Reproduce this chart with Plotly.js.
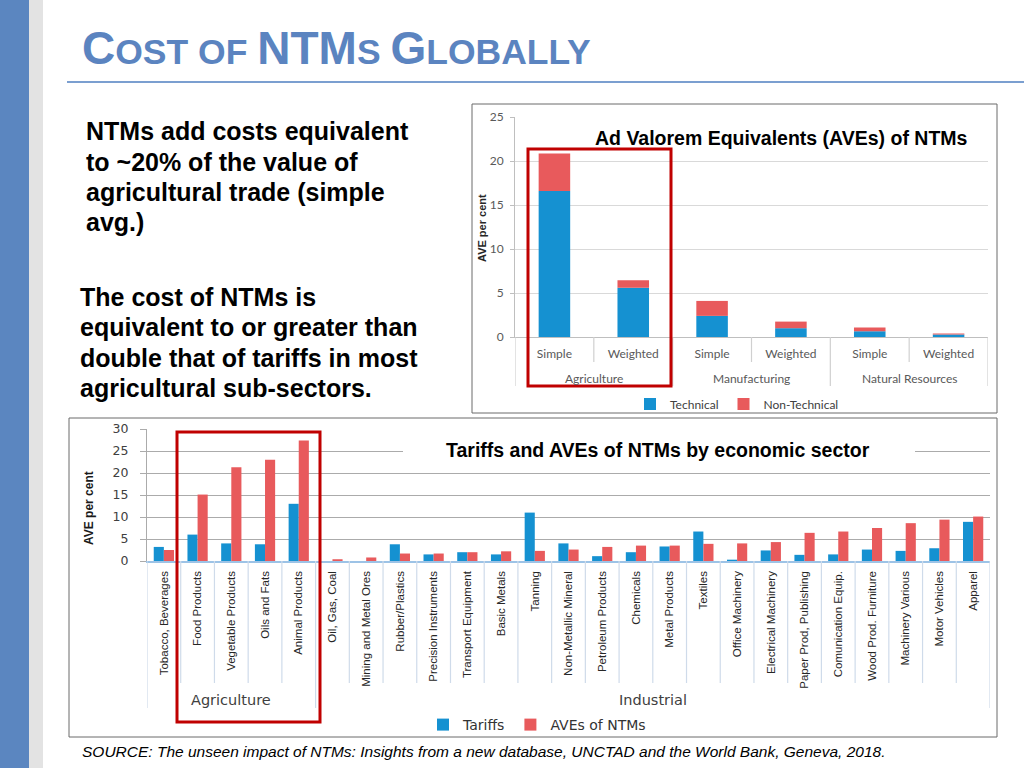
<!DOCTYPE html>
<html>
<head>
<meta charset="utf-8">
<script src="https://cdn.plot.ly/plotly-3.0.1.min.js"></script>
<style>
  html, body { margin: 0; padding: 0; background: #ffffff; }
  #chart { width: 1024px; height: 768px; }
</style>
</head>
<body>
<div id="chart"></div>
<script>
// ---------- Data: top chart (AVEs of NTMs) ----------
const topGroups = ['Agriculture', 'Manufacturing', 'Natural Resources'];
const topTypes = ['Simple', 'Weighted'];
const technical = [16.6, 5.6, 2.4, 1.0, 0.65, 0.27];
const nonTechnical = [4.25, 0.85, 1.7, 0.75, 0.42, 0.12];

// ---------- Data: bottom chart (Tariffs and AVEs by sector) ----------
const sectors = ['Tobacco, Beverages', 'Food Products', 'Vegetable Products', 'Oils and Fats', 'Animal Products',
  'Oil, Gas, Coal', 'Mining and Metal Ores', 'Rubber/Plastics', 'Precision Instruments', 'Transport Equipment',
  'Basic Metals', 'Tanning', 'Non-Metallic Mineral', 'Petroleum Products', 'Chemicals', 'Metal Products',
  'Textiles', 'Office Machinery', 'Electrical Machinery', 'Paper Prod, Publishing', 'Comunication Equip.',
  'Wood Prod. Furniture', 'Machinery Various', 'Motor Vehicles', 'Apparel'];
const tariffs = [3.2, 6.0, 4.0, 3.8, 13.0, 0, 0, 3.8, 1.5, 2.0, 1.5, 11.0, 4.0, 1.1, 2.0, 3.3, 6.7, 0.3, 2.4, 1.4, 1.5, 2.6, 2.3, 2.9, 8.9];
const avesNTMs = [2.5, 15.1, 21.3, 23.0, 27.4, 0.4, 0.8, 1.7, 1.7, 2.0, 2.2, 2.3, 2.6, 3.2, 3.5, 3.5, 3.9, 4.0, 4.3, 6.4, 6.7, 7.5, 8.6, 9.4, 10.1];
const sectorGroups = ['Agriculture', 'Industrial'];
const sectorGroupSizes = [5, 20];

// ---------- Helpers (pixel -> paper) ----------
const W = 1024, H = 768;
const PX = x => x / W;
const PY = y => 1 - y / H;

const BLUE = '#1591d1';
const RED = '#e85a5c';
const ARIAL = 'Liberation Sans, Arial, sans-serif';
const CALIBRI = 'Lato, Open Sans, sans-serif';
const WIDE = 'DejaVu Sans, Verdana, sans-serif';

const topCats = [];
topGroups.forEach(g => topTypes.forEach(t => topCats.push(g + ' | ' + t)));
const topTickText = topCats.map(c => c.split(' | ')[1]);

const traces = [
  { type: 'bar', name: 'Technical', x: topCats, y: technical, width: 0.4,
    marker: { color: BLUE }, xaxis: 'x', yaxis: 'y', legend: 'legend', hoverinfo: 'y' },
  { type: 'bar', name: 'Non-Technical', x: topCats, y: nonTechnical, base: technical, width: 0.4,
    marker: { color: RED }, xaxis: 'x', yaxis: 'y', legend: 'legend', hoverinfo: 'y' },
  { type: 'bar', name: 'Tariffs', x: sectors, y: tariffs, width: 0.3, offset: -0.3,
    marker: { color: BLUE }, xaxis: 'x2', yaxis: 'y2', legend: 'legend2', hoverinfo: 'y' },
  { type: 'bar', name: 'AVEs of NTMs', x: sectors, y: avesNTMs, width: 0.3, offset: 0,
    marker: { color: RED }, xaxis: 'x2', yaxis: 'y2', legend: 'legend2', hoverinfo: 'y' }
];

// ---------- Shapes ----------
const shapes = [
  // left decorative bars
  { type: 'rect', xref: 'paper', yref: 'paper', x0: 0, x1: PX(29), y0: 0, y1: 1, fillcolor: '#5b86c0', line: { width: 0 }, layer: 'below' },
  { type: 'rect', xref: 'paper', yref: 'paper', x0: PX(29), x1: PX(43), y0: 0, y1: 1, fillcolor: '#e3e3e3', line: { width: 0 }, layer: 'below' },
  // title underline
  { type: 'line', xref: 'paper', yref: 'paper', x0: PX(67), x1: 1, y0: PY(82), y1: PY(82), line: { color: '#7b9fd0', width: 2 } },
  // chart boxes
  { type: 'rect', xref: 'paper', yref: 'paper', x0: PX(472), x1: PX(997), y0: PY(413), y1: PY(104), line: { color: '#6b6b6b', width: 1 } },
  { type: 'rect', xref: 'paper', yref: 'paper', x0: PX(69), x1: PX(997), y0: PY(737), y1: PY(418), line: { color: '#6b6b6b', width: 1 } },
  // white backing behind the bottom title
  { type: 'rect', xref: 'paper', yref: 'paper', x0: PX(403), x1: PX(915), y0: PY(460), y1: PY(441), fillcolor: '#ffffff', line: { width: 0 }, layer: 'above' }
];

// top chart category dividers
for (let i = 0; i <= topCats.length; i++) {
  const isGroup = (i % topTypes.length) === 0;
  shapes.push({ type: 'line', xref: 'x', yref: 'paper', x0: i - 0.5, x1: i - 0.5,
    y0: PY(337), y1: PY(isGroup ? 386 : 362), line: { color: '#d0d0d0', width: 1.2 } });
}
// bottom chart category dividers
const groupBounds = [0];
sectorGroupSizes.reduce((acc, s) => { groupBounds.push(acc + s); return acc + s; }, 0);
for (let i = 0; i <= sectors.length; i++) {
  const isGroup = groupBounds.includes(i);
  shapes.push({ type: 'line', xref: 'x2', yref: 'paper', x0: i - 0.5, x1: i - 0.5,
    y0: PY(561), y1: PY(isGroup ? 708 : 683), line: { color: '#cfdbea', width: 1.2 } });
}

// red highlight rectangles
shapes.push({ type: 'rect', xref: 'paper', yref: 'paper', x0: PX(528), x1: PX(671), y0: PY(386), y1: PY(149), line: { color: '#c00000', width: 3 }, layer: 'above' });
shapes.push({ type: 'rect', xref: 'paper', yref: 'paper', x0: PX(177), x1: PX(320), y0: PY(722), y1: PY(432), line: { color: '#c00000', width: 3 }, layer: 'above' });

// ---------- Annotations ----------
const annotations = [];
const big = s => '<span style="font-size:46px">' + s + '</span>';
annotations.push({
  xref: 'paper', yref: 'paper', x: PX(80), y: PY(48), xanchor: 'left', yanchor: 'middle', showarrow: false,
  text: big('C') + 'OST OF ' + big('NTM') + 'S ' + big('G') + 'LOBALLY',
  font: { family: ARIAL, size: 35.5, color: '#5b84c0', weight: 700 }
});

const block1 = ['NTMs add costs equivalent', 'to ~20% of the value of', 'agricultural trade (simple', 'avg.)'];
const block1Y = [131, 162, 192, 222];
block1.forEach((t, i) => annotations.push({
  xref: 'paper', yref: 'paper', x: PX(84), y: PY(block1Y[i]), xanchor: 'left', yanchor: 'middle', showarrow: false,
  text: '<b>' + t + '</b>', font: { family: ARIAL, size: 25, color: '#000000' }
}));
const block2 = ['The cost of NTMs is', 'equivalent to or greater than', 'double that of tariffs in most', 'agricultural sub-sectors.'];
const block2Y = [297, 327, 358, 388];
block2.forEach((t, i) => annotations.push({
  xref: 'paper', yref: 'paper', x: PX(78), y: PY(block2Y[i]), xanchor: 'left', yanchor: 'middle', showarrow: false,
  text: '<b>' + t + '</b>', font: { family: ARIAL, size: 25, color: '#000000' }
}));

// top chart title and axis title
annotations.push({ xref: 'paper', yref: 'paper', x: PX(781), y: PY(138), xanchor: 'center', yanchor: 'middle', showarrow: false,
  text: '<b>Ad Valorem Equivalents (AVEs) of NTMs</b>', font: { family: ARIAL, size: 19.5, color: '#000000' } });
annotations.push({ xref: 'paper', yref: 'paper', x: PX(482), y: PY(228), xanchor: 'center', yanchor: 'middle', showarrow: false,
  textangle: -90, text: '<b>AVE per cent</b>', font: { family: ARIAL, size: 11, color: '#262626' } });
// top chart group labels
topGroups.forEach((g, i) => annotations.push({
  xref: 'x', yref: 'paper', x: i * topTypes.length + (topTypes.length - 1) / 2, y: PY(379),
  xanchor: 'center', yanchor: 'middle', showarrow: false, text: g,
  font: { family: CALIBRI, size: 12, color: '#595959' }
}));

// bottom chart title and axis title
annotations.push({ xref: 'paper', yref: 'paper', x: PX(658), y: PY(450), xanchor: 'center', yanchor: 'middle', showarrow: false,
  text: '<b>Tariffs and AVEs of NTMs by economic sector</b>', font: { family: ARIAL, size: 19.5, color: '#000000' } });
annotations.push({ xref: 'paper', yref: 'paper', x: PX(89), y: PY(508), xanchor: 'center', yanchor: 'middle', showarrow: false,
  textangle: -90, text: '<b>AVE per cent</b>', font: { family: ARIAL, size: 12, color: '#1a1a1a' } });
// bottom chart group labels
let start = 0;
sectorGroups.forEach((g, i) => {
  annotations.push({ xref: 'x2', yref: 'paper', x: start + (sectorGroupSizes[i] - 1) / 2, y: PY(700),
    xanchor: 'center', yanchor: 'middle', showarrow: false, text: g,
    font: { family: WIDE, size: 14.5, color: '#404040' } });
  start += sectorGroupSizes[i];
});

// source
annotations.push({ xref: 'paper', yref: 'paper', x: PX(80), y: PY(751), xanchor: 'left', yanchor: 'middle', showarrow: false,
  text: '<i>SOURCE: The unseen impact of NTMs: Insights from a new database, UNCTAD and the World Bank, Geneva, 2018.</i>',
  font: { family: ARIAL, size: 15.5, color: '#000000' } });

// ---------- Layout ----------
const layout = {
  width: W, height: H,
  margin: { l: 0, r: 0, t: 0, b: 0, pad: 0 },
  paper_bgcolor: '#ffffff', plot_bgcolor: 'rgba(0,0,0,0)',
  barmode: 'overlay',
  showlegend: true,
  xaxis: {
    type: 'category', domain: [PX(515), PX(988)], anchor: 'y', range: [-0.5, topCats.length - 0.5],
    tickvals: topCats, ticktext: topTickText, ticks: '', showgrid: false, zeroline: false,
    showline: true, linecolor: '#bfbfbf', linewidth: 1, ticklabelstandoff: 6,
    tickfont: { family: CALIBRI, size: 12, color: '#595959' }, fixedrange: true
  },
  yaxis: {
    domain: [PY(337), PY(117)], anchor: 'x', range: [0, 25], dtick: 5, tick0: 0,
    showgrid: true, gridcolor: '#d9d9d9', gridwidth: 1, zeroline: false,
    showline: true, linecolor: '#bfbfbf', ticks: 'outside', ticklen: 4, tickcolor: '#bfbfbf',
    ticklabelstandoff: 4, tickfont: { family: CALIBRI, size: 12, color: '#595959' }, fixedrange: true
  },
  xaxis2: {
    type: 'category', domain: [PX(147), PX(990)], anchor: 'y2', range: [-0.5, sectors.length - 0.5],
    tickangle: -90, ticks: '', showgrid: false, zeroline: false,
    showline: true, linecolor: '#9dc3e6', linewidth: 1.5, ticklabelstandoff: 4,
    tickfont: { family: ARIAL, size: 11.5, color: '#262626' }, fixedrange: true
  },
  yaxis2: {
    domain: [PY(561), PY(429)], anchor: 'x2', range: [0, 30], dtick: 5, tick0: 0,
    showgrid: true, gridcolor: '#ababab', gridwidth: 1, zeroline: false,
    showline: true, linecolor: '#ababab', ticks: 'outside', ticklen: 6, tickcolor: '#ababab',
    ticklabelstandoff: 9, tickfont: { family: WIDE, size: 12.5, color: '#404040' }, fixedrange: true
  },
  legend: {
    orientation: 'h', x: PX(737), xanchor: 'center', y: PY(404), yanchor: 'middle',
    bgcolor: 'rgba(0,0,0,0)', font: { family: CALIBRI, size: 12, color: '#404040' },
    itemclick: false, itemdoubleclick: false, traceorder: 'normal'
  },
  legend2: {
    orientation: 'h', x: PX(537), xanchor: 'center', y: PY(725), yanchor: 'middle',
    bgcolor: 'rgba(0,0,0,0)', font: { family: WIDE, size: 14, color: '#333333' },
    itemclick: false, itemdoubleclick: false, traceorder: 'normal'
  },
  shapes: shapes,
  annotations: annotations
};

Plotly.newPlot('chart', traces, layout, { displayModeBar: false, staticPlot: true });
</script>
</body>
</html>
